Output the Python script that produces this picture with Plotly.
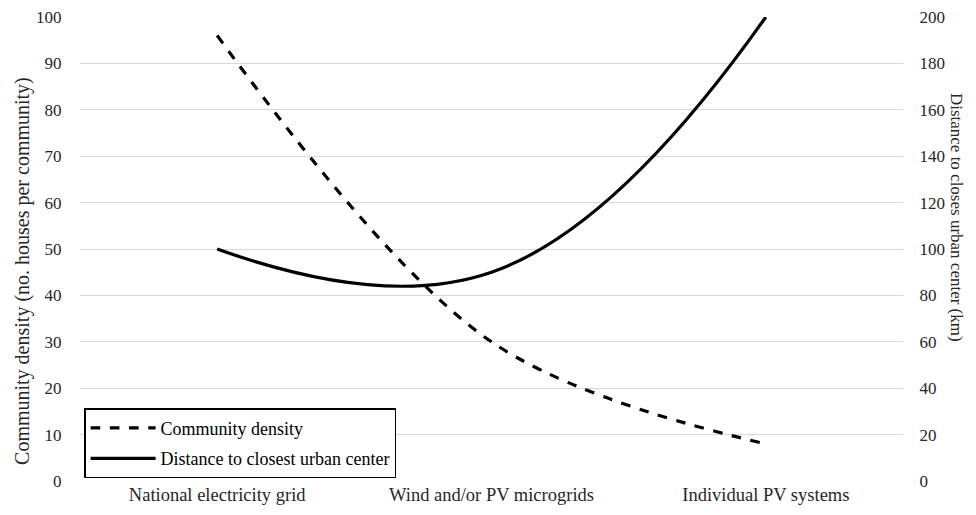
import plotly.graph_objects as go

categories = ["National electricity grid", "Wind and/or PV microgrids", "Individual PV systems"]
community_density = [96, 30, 8]
distance_km = [100, 90, 200]

left_ticks = list(range(0, 101, 10))
right_ticks = list(range(0, 201, 20))

FONT = "Liberation Serif, Times New Roman, serif"

fig = go.Figure()
fig.add_trace(go.Scatter(
    x=categories, y=community_density, name="Community density",
    mode="lines", line=dict(color="black", width=3.2, dash="dash", shape="spline", smoothing=1),
    legendgroup="a", yaxis="y"))
fig.add_trace(go.Scatter(
    x=categories, y=distance_km, name="Distance to closest urban center",
    mode="lines", line=dict(color="black", width=3.2, shape="spline", smoothing=1.25),
    legendgroup="b", yaxis="y2"))

fig.update_layout(
    width=968, height=499,
    margin=dict(l=72, r=73, t=9, b=26, autoexpand=False),
    paper_bgcolor="white", plot_bgcolor="white",
    font=dict(family=FONT, size=17, color="#262626"),
    showlegend=True,
    legend=dict(x=0.005, y=0.006, xanchor="left", yanchor="bottom",
                bordercolor="black", borderwidth=1.5, bgcolor="white",
                font=dict(family=FONT, size=18, color="black"),
                itemwidth=65, tracegroupgap=4, traceorder="grouped"),
    xaxis=dict(type="category", range=[-0.5, 2.5], showgrid=False, showline=False,
               zeroline=False, ticks="", tickfont=dict(size=18.5), automargin=False,
               ticklabeloverflow="allow"),
    yaxis=dict(range=[0, 100], tickvals=left_ticks, showgrid=True, gridcolor="#d9d9d9",
               gridwidth=1, zeroline=False, showline=False, ticks="outside",
               ticklen=14, tickcolor="rgba(0,0,0,0)", tickfont=dict(size=17), automargin=False,
               ticklabeloverflow="allow"),
    yaxis2=dict(range=[0, 200], tickvals=right_ticks, overlaying="y", side="right",
                showgrid=False, zeroline=False, showline=False, ticks="outside",
                ticklen=12, tickcolor="rgba(0,0,0,0)", tickfont=dict(size=17), automargin=False,
                ticklabeloverflow="allow"),
    annotations=[
        dict(text="Community density (no. houses per community)", xref="paper", yref="paper",
             x=-0.0693, y=0.4526, xanchor="center", yanchor="middle",
             showarrow=False, textangle=-90,
             font=dict(family=FONT, size=20, color="#262626")),
        dict(text="Distance to closes urban center (km)", xref="paper", yref="paper",
             x=1.0645, y=0.569, xanchor="center", yanchor="middle",
             showarrow=False, textangle=90,
             font=dict(family=FONT, size=17, color="#262626")),
    ],
)

fig.write_html("out.html")
